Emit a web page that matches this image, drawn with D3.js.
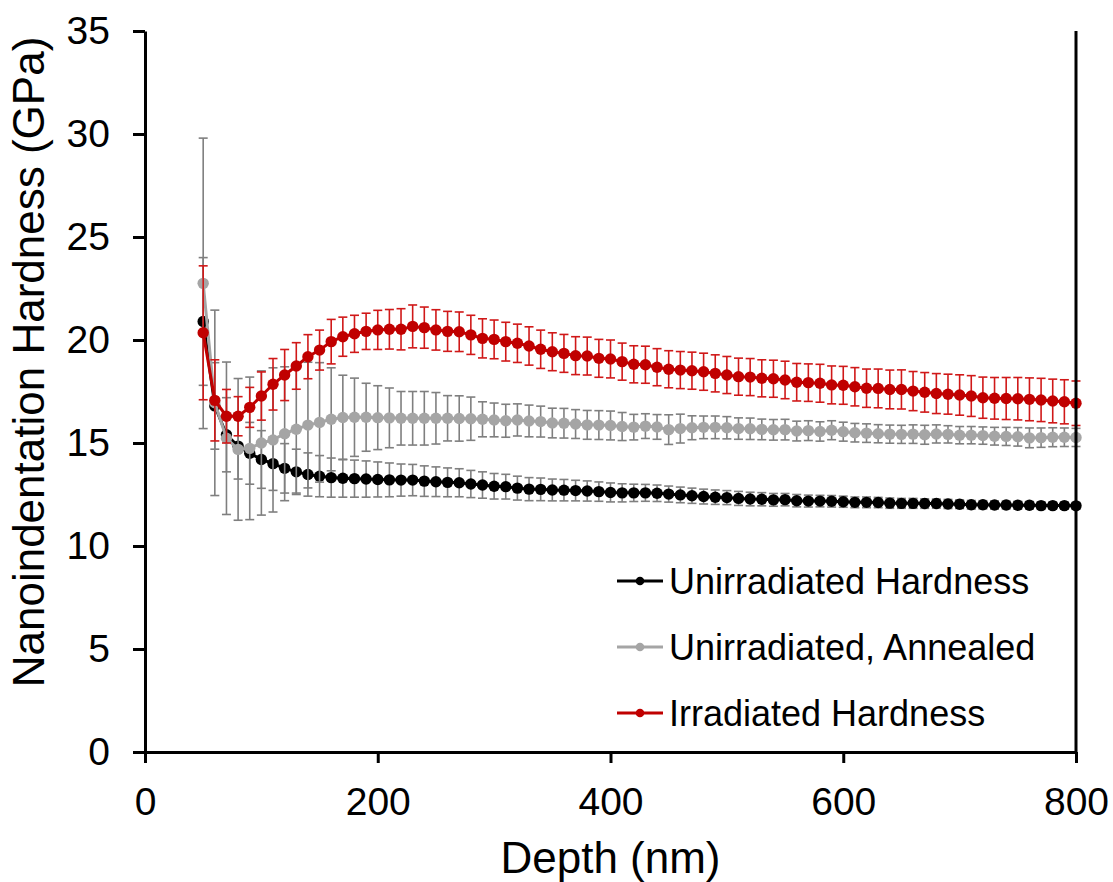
<!DOCTYPE html>
<html>
<head>
<meta charset="utf-8">
<script src="https://cdn.jsdelivr.net/npm/d3@7"></script>
<style>
  body { margin: 0; background: #fff; }
  svg { display: block; font-family: "Liberation Sans", Arial, sans-serif; }
</style>
</head>
<body>
<svg id="chart" width="1113" height="882"></svg>
<script>
// depth (nm) of each averaged indent point
const depth = [50,60,70,80,90,100,110,120,130,140,150,160,170,180,190,200,210,220,230,240,
  250,260,270,280,290,300,310,320,330,340,350,360,370,380,390,400,410,420,430,440,
  450,460,470,480,490,500,510,520,530,540,550,560,570,580,590,600,610,620,630,640,
  650,660,670,680,690,700,710,720,730,740,750,760,770,780,790,800]

// hardness (GPa)
const unirradiated = [20.9,16.8,15.4,14.85,14.5,14.2,14.0,13.77,13.6,13.47,13.39,13.32,13.29,13.27,13.25,13.23,13.21,13.2,13.2,13.15,
  13.12,13.09,13.07,13.01,12.96,12.9,12.88,12.81,12.76,12.75,12.72,12.71,12.69,12.67,12.64,12.6,12.58,12.58,12.58,12.56,
  12.52,12.48,12.44,12.4,12.37,12.35,12.31,12.28,12.27,12.24,12.25,12.2,12.18,12.18,12.17,12.15,12.12,12.12,12.11,12.08,
  12.07,12.07,12.06,12.06,12.04,12.03,12.0,12.0,11.99,11.99,11.98,11.98,11.96,11.96,11.96,11.95]
const unirradiatedErr = [3.1,2.1,1.8,1.6,1.5,1.4,1.3,1.2,1.1,1.05,1.0,0.95,0.92,0.9,0.88,0.85,0.82,0.78,0.76,0.74,
  0.72,0.7,0.68,0.66,0.64,0.62,0.6,0.58,0.56,0.55,0.53,0.52,0.5,0.49,0.47,0.46,0.44,0.42,0.41,0.4,
  0.39,0.38,0.37,0.36,0.35,0.34,0.34,0.33,0.32,0.31,0.3,0.3,0.29,0.28,0.28,0.27,0.26,0.26,0.25,0.25,
  0.24,0.24,0.23,0.22,0.22,0.21,0.21,0.2,0.2,0.19,0.19,0.18,0.18,0.17,0.17,0.16]

const annealed = [22.75,16.95,15.23,14.69,14.74,15.0,15.15,15.45,15.67,15.87,16.0,16.15,16.24,16.25,16.25,16.23,16.22,16.2,16.2,16.2,
  16.2,16.2,16.19,16.18,16.15,16.12,16.08,16.12,16.07,16.04,15.97,15.96,15.92,15.88,15.87,15.85,15.8,15.77,15.82,15.78,
  15.65,15.7,15.74,15.76,15.76,15.74,15.7,15.69,15.66,15.64,15.65,15.58,15.6,15.56,15.62,15.55,15.5,15.48,15.45,15.43,
  15.42,15.43,15.4,15.44,15.42,15.38,15.38,15.36,15.33,15.32,15.3,15.25,15.26,15.28,15.28,15.27]
const annealedErr = [7.05,4.5,3.7,3.44,3.46,3.5,3.5,3.25,3.1,3.05,2.9,2.5,2.05,1.9,1.65,1.55,1.45,1.3,1.3,1.3,
  1.25,1.1,1.1,1.05,0.85,0.82,0.8,0.78,0.77,0.75,0.72,0.72,0.7,0.7,0.7,0.7,0.68,0.62,0.6,0.6,
  0.72,0.7,0.58,0.55,0.55,0.54,0.52,0.52,0.5,0.5,0.5,0.48,0.48,0.47,0.46,0.46,0.45,0.45,0.44,0.44,
  0.44,0.45,0.46,0.44,0.42,0.42,0.42,0.42,0.43,0.44,0.45,0.48,0.47,0.46,0.45,0.44]

const irradiated = [20.35,17.07,16.3,16.3,16.73,17.28,17.85,18.3,18.74,19.19,19.51,19.92,20.16,20.3,20.42,20.49,20.52,20.52,20.66,20.6,
  20.49,20.42,20.4,20.25,20.08,20.03,19.92,19.84,19.71,19.55,19.43,19.35,19.24,19.22,19.11,19.08,18.95,18.82,18.8,18.68,
  18.58,18.54,18.51,18.46,18.38,18.3,18.22,18.2,18.14,18.12,18.06,17.95,17.93,17.9,17.82,17.8,17.73,17.66,17.65,17.6,
  17.6,17.52,17.46,17.4,17.37,17.33,17.28,17.2,17.17,17.16,17.15,17.12,17.09,17.04,17.0,16.93]
const irradiatedErr = [3.25,1.97,1.3,0.95,0.97,1.17,1.25,1.24,1.13,1.07,0.97,1.08,0.95,0.9,0.88,0.95,0.96,1.0,1.04,1.0,
  0.98,0.97,0.96,0.95,0.95,0.94,0.94,0.93,0.93,0.93,0.92,0.92,0.92,0.92,0.92,0.92,0.9,0.9,0.9,0.9,
  0.9,0.9,0.9,0.9,0.9,0.9,0.9,0.9,0.9,0.9,0.91,0.91,0.91,0.92,0.92,0.92,0.93,0.93,0.94,0.94,
  0.95,0.95,0.96,0.97,0.97,0.98,0.99,1.0,1.01,1.02,1.03,1.04,1.05,1.06,1.07,1.08]

const seriesNames = ["Unirradiated Hardness", "Unirradiated, Annealed", "Irradiated Hardness"]
const xTicks = [0, 200, 400, 600, 800]
const yTicks = [0, 5, 10, 15, 20, 25, 30, 35]

const series = [
  {name: seriesNames[0], values: unirradiated, err: unirradiatedErr, color: "#000000", errColor: "#7f7f7f"},
  {name: seriesNames[1], values: annealed, err: annealedErr, color: "#a5a5a5", errColor: "#7f7f7f"},
  {name: seriesNames[2], values: irradiated, err: irradiatedErr, color: "#c00000", errColor: "#d01818"}
]

const svg = d3.select("#chart")
const x = d3.scaleLinear().domain([0, 800]).range([145, 1076])
const y = d3.scaleLinear().domain([0, 35]).range([752, 31])

svg.append("rect").attr("width", 1113).attr("height", 882).attr("fill", "#fff")

// series: error bars, then line, then markers
series.forEach(s => {
  const pts = depth.map((d, i) => ({d: d, v: s.values[i], e: s.err[i]}))
  const g = svg.append("g")
  const bars = g.append("g").attr("stroke", s.errColor).attr("stroke-width", 1.6).attr("fill", "none")
  pts.forEach(p => {
    const cx = x(p.d)
    bars.append("line").attr("x1", cx).attr("x2", cx).attr("y1", y(p.v - p.e)).attr("y2", y(p.v + p.e))
    bars.append("line").attr("x1", cx - 4.5).attr("x2", cx + 4.5).attr("y1", y(p.v + p.e)).attr("y2", y(p.v + p.e))
    bars.append("line").attr("x1", cx - 4.5).attr("x2", cx + 4.5).attr("y1", y(p.v - p.e)).attr("y2", y(p.v - p.e))
  })
  g.append("path")
    .datum(pts)
    .attr("fill", "none")
    .attr("stroke", s.color)
    .attr("stroke-width", 3)
    .attr("d", d3.line().x(p => x(p.d)).y(p => y(p.v)))
  g.selectAll("circle")
    .data(pts)
    .join("circle")
      .attr("cx", p => x(p.d))
      .attr("cy", p => y(p.v))
      .attr("r", 5.7)
      .attr("fill", s.color)
})

// axes
const yAxis = svg.append("g")
  .attr("transform", `translate(${x(0)},0)`)
  .call(d3.axisLeft(y).tickValues(yTicks).tickSize(12).tickSizeOuter(0).tickPadding(23))
const xAxis = svg.append("g")
  .attr("transform", `translate(0,${y(0)})`)
  .call(d3.axisBottom(x).tickValues(xTicks).tickSize(11).tickSizeOuter(0).tickPadding(24))
;[xAxis, yAxis].forEach(a => {
  a.select(".domain").attr("stroke", "#000").attr("stroke-width", 3)
  a.selectAll(".tick line").attr("stroke", "#000").attr("stroke-width", 3)
  a.selectAll(".tick text").attr("fill", "#000").attr("font-size", 39).attr("font-family", null)
})
// right frame line
svg.append("line")
  .attr("x1", x(800)).attr("x2", x(800)).attr("y1", y(0)).attr("y2", y(35))
  .attr("stroke", "#000").attr("stroke-width", 3)

// axis titles
svg.append("text")
  .attr("x", (x(0) + x(800)) / 2).attr("y", 873)
  .attr("text-anchor", "middle").attr("font-size", 44)
  .text("Depth (nm)")
svg.append("text")
  .attr("transform", `translate(44,362) rotate(-90)`)
  .attr("text-anchor", "middle").attr("font-size", 44)
  .text("Nanoindentation Hardness (GPa)")

// legend
const legendY = [581, 647, 713]
series.forEach((s, i) => {
  const lg = svg.append("g").attr("transform", `translate(0,${legendY[i]})`)
  lg.append("line").attr("x1", 617).attr("x2", 663).attr("y1", 0).attr("y2", 0)
    .attr("stroke", s.color).attr("stroke-width", 3)
  lg.append("circle").attr("cx", 640).attr("cy", 0).attr("r", 4.3).attr("fill", s.color)
  lg.append("text").attr("x", 669).attr("y", 0).attr("dy", "0.35em")
    .attr("font-size", 36).attr("fill", "#000").text(s.name)
})
</script>
</body>
</html>
